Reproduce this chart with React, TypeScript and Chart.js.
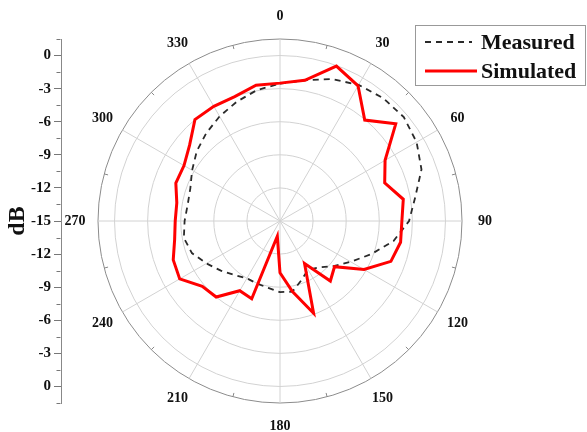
import { useEffect, useRef } from 'react';
import { Chart, registerables } from 'chart.js';

Chart.register(...registerables);

// ---- data ----
const angles = [0, 10, 20, 30, 40, 50, 60, 70, 80, 90, 100, 110, 120, 130, 140, 150, 160, 170,
  180, 190, 200, 210, 220, 230, 240, 250, 260, 270, 280, 290, 300, 310, 320, 330, 340, 350];

const measured = [-2.55, -2.05, -1.3, -0.75, -0.45, -0.35, -0.7, -1.35, -2.55, -3.3, -4.55, -6.2,
  -7.6, -8.65, -9.5, -9.9, -9.3, -8.5, -8.55, -8.85, -8.95, -9.0, -8.6, -8.0,
  -7.3, -6.5, -6.15, -6.35, -6.5, -6.35, -5.8, -5.15, -4.6, -4.05, -3.5, -2.95];

const simulated = [-2.5, -2.05, -0.05, -0.85, -3.05, -1.3, -4.0, -4.9, -3.65, -3.95, -3.9, -4.3,
  -6.2, -8.55, -7.9, -10.55, -6.1, -8.5, -10.3, -13.6, -7.5, -7.7, -6.0, -5.8,
  -4.5, -4.7, -5.3, -5.5, -5.5, -4.95, -4.95, -4.3, -3.0, -3.0, -3.0, -2.5];

const seriesNames = ['Measured', 'Simulated'];
const angleLabelStep = 30;
const radialTicks = [-15, -12, -9, -6, -3, 0, 1.5];
const dbAxisMin = -16.5;
const dbAxisMax = 16.5;
const dbAxisStep = 1.5;
const dbAxisLabelStep = 3;
const dbAxisTitle = 'dB';

const FONT = "'Liberation Serif', 'Times New Roman', serif";

const isMajor = (v: number) => Math.abs(Math.round(v / dbAxisLabelStep) * dbAxisLabelStep - v) < 1e-6;

const polarDecor = {
  id: 'polarDecor',
  afterDraw(chart: any) {
    const ctx = chart.ctx;
    const r = chart.scales.r;
    const y = chart.scales.y;
    ctx.save();
    // angle labels
    ctx.fillStyle = '#111';
    ctx.font = `bold 14px ${FONT}`;
    ctx.textAlign = 'center';
    ctx.textBaseline = 'middle';
    angles.forEach((a, i) => {
      if (a % angleLabelStep !== 0) return;
      const p = r.getPointPosition(i, r.drawingArea + 23);
      ctx.fillText(String(a), p.x, p.y);
    });
    // minor ticks on outer circle (every 15 deg, odd)
    ctx.strokeStyle = '#888';
    ctx.lineWidth = 1;
    const stepDeg = angles[1] - angles[0];
    for (let k = 15; k < 360; k += 30) {
      const idx = k / stepDeg;
      const p1 = r.getPointPosition(idx, r.drawingArea);
      const p2 = r.getPointPosition(idx, r.drawingArea - 4);
      ctx.beginPath();
      ctx.moveTo(p1.x, p1.y);
      ctx.lineTo(p2.x, p2.y);
      ctx.stroke();
    }
    // minor ticks on dB axis
    const x0 = Math.round(y.right) - 0.5;
    ctx.strokeStyle = '#777';
    y.ticks.forEach((t: any) => {
      if (isMajor(t.value)) return;
      const py = Math.round(y.getPixelForValue(t.value)) + 0.5;
      ctx.beginPath();
      ctx.moveTo(x0 - 4, py);
      ctx.lineTo(x0, py);
      ctx.stroke();
    });
    // legend
    const bx = 415.5, by = 25.5, bw = 170, bh = 60;
    ctx.strokeStyle = '#999';
    ctx.lineWidth = 1;
    ctx.strokeRect(bx, by, bw, bh);
    const ds = chart.data.datasets;
    const rows = [42, 71];
    ds.forEach((d: any, i: number) => {
      ctx.beginPath();
      ctx.strokeStyle = d.borderColor;
      ctx.lineWidth = d.borderWidth;
      ctx.setLineDash(d.borderDash || []);
      ctx.moveTo(425, rows[i]);
      ctx.lineTo(i === 0 ? 472 : 477, rows[i]);
      ctx.stroke();
      ctx.setLineDash([]);
      ctx.fillStyle = '#111';
      ctx.font = `bold 22px ${FONT}`;
      ctx.textAlign = 'left';
      ctx.textBaseline = 'middle';
      ctx.fillText(d.label, 481, rows[i] + 1);
    });
    ctx.restore();
  },
};

export default function App() {
  const ref = useRef<HTMLCanvasElement | null>(null);
  useEffect(() => {
    if (!ref.current) return;
    const chart = new Chart(ref.current, {
      type: 'radar',
      data: {
        labels: angles.map(String),
        datasets: [
          {
            label: seriesNames[0],
            data: measured,
            borderColor: '#2a2a2a',
            borderWidth: 1.8,
            borderDash: [6, 5],
            fill: false,
            pointRadius: 0,
            order: 2,
          },
          {
            label: seriesNames[1],
            data: simulated,
            borderColor: 'rgb(255,0,0)',
            borderWidth: 3,
            fill: false,
            pointRadius: 0,
            order: 1,
          },
        ],
      },
      options: {
        animation: false,
        responsive: true,
        maintainAspectRatio: false,
        events: [],
        layout: { padding: { left: 0, top: 39, right: 88, bottom: 29 } },
        plugins: { legend: { display: false }, tooltip: { enabled: false } },
        scales: {
          r: {
            min: -15,
            max: 1.5,
            startAngle: 0,
            afterBuildTicks: (s: any) => { s.ticks = radialTicks.map((v) => ({ value: v })); },
            ticks: { display: false },
            pointLabels: { display: false },
            grid: {
              circular: true,
              color: (c: any) => (c.index === radialTicks.length - 1 ? '#8c8c8c' : '#d2d2d2'),
              lineWidth: 1,
            },
            angleLines: {
              display: true,
              color: (c: any) => (angles[c.index] % angleLabelStep === 0 ? '#d2d2d2' : 'transparent'),
              lineWidth: 1,
            },
          },
          y: {
            type: 'linear',
            position: 'left',
            min: dbAxisMin,
            max: dbAxisMax,
            afterFit: (s: any) => { s.width = 61; },
            ticks: {
              stepSize: dbAxisStep,
              autoSkip: false,
              padding: 3,
              color: '#111',
              font: { family: FONT, size: 15, weight: 'bold' },
              callback: (v: any) => {
                const n = Number(v);
                if (!isMajor(n)) return '';
                const d = Math.round(Math.abs(n) - 15);
                return d === 0 ? '0' : String(d);
              },
            },
            grid: {
              drawOnChartArea: false,
              drawTicks: true,
              tickLength: 7,
              tickColor: (c: any) => (c.tick && isMajor(c.tick.value) ? '#777' : 'transparent'),
            },
            border: { display: true, color: '#888', width: 1 },
            title: {
              display: true,
              text: dbAxisTitle,
              color: '#111',
              font: { family: FONT, size: 24, weight: 'bold' },
              padding: { top: 3, bottom: 0 },
            },
          },
        },
      } as any,
      plugins: [polarDecor],
    });
    return () => chart.destroy();
  }, []);
  return (
    <div style={{ position: 'fixed', left: 0, top: 0, width: 587, height: 432, background: '#fff' }}>
      <canvas ref={ref} />
    </div>
  );
}
